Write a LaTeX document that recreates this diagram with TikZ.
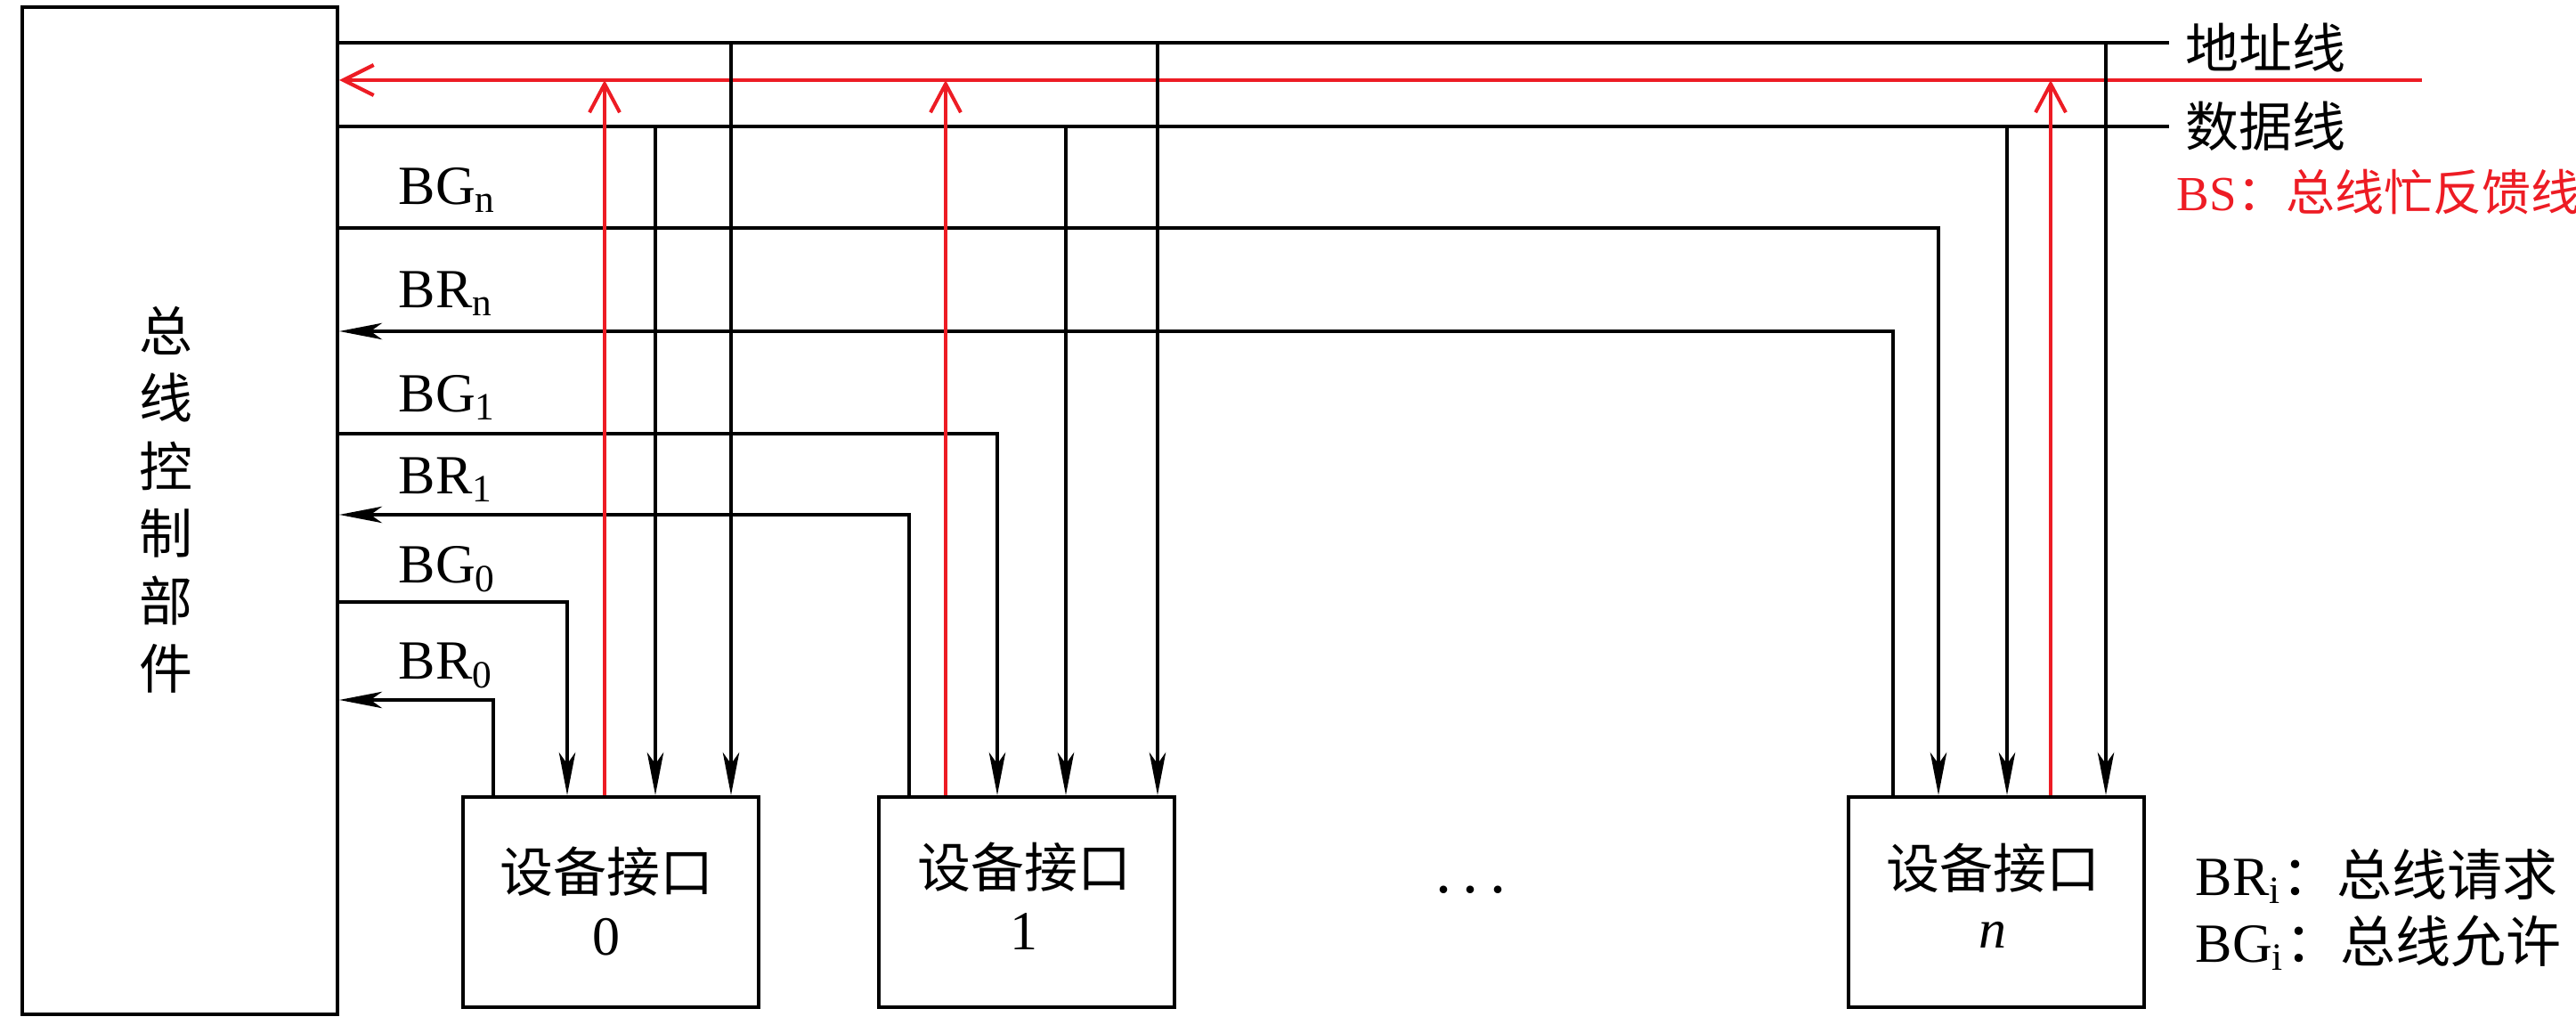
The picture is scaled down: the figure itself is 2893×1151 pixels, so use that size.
\documentclass[tikz,border=0pt]{standalone}
\usepackage{fontspec}
\setmainfont{Liberation Serif}
\newfontfamily\cjk{Noto Sans CJK SC}
\usetikzlibrary{arrows.meta}
\definecolor{bsred}{RGB}{237,28,36}
\newcommand\fsbig{\fontsize{15pt}{18.75pt}\selectfont}
\newcommand\fslab{\fontsize{15.5pt}{18pt}\selectfont}
\newcommand\fsred{\fontsize{13.75pt}{16pt}\selectfont}
\newcommand\fsdots{\fontsize{18pt}{20pt}\selectfont}
\begin{document}
\begin{tikzpicture}[x=0.25pt,y=-0.25pt,
  ctrlbox/.style={draw, line width=1pt, minimum width=88.5pt, minimum height=282.75pt, inner sep=0pt},
  devbox/.style={draw, line width=1pt, minimum width=83pt, minimum height=59pt, inner sep=0pt},
  cjktxt/.style={inner sep=0pt, font=\fsbig\cjk},
  labtxt/.style={inner sep=0pt, font=\fslab, anchor=base west},
  bus/.style={line width=1pt},
  sig/.style={line width=1pt, -{Stealth[length=12pt,width=4.6pt,inset=3.2pt]}},
  bsl/.style={draw=bsred, line width=1.05pt, -{Straight Barb[length=8.5pt,width=8.5pt]}},
  bsv/.style={draw=bsred, line width=1pt, -{Straight Barb[length=8pt,width=8.5pt]}}
]
\useasboundingbox (0,0) rectangle (2893,1151);

% controller
\node[ctrlbox] (ctrl) at (202,573.5) {};
\foreach \c [count=\i] in {总,线,控,制,部,件}
  \node[cjktxt] (c\i) at (186,{371+76*(\i-1)}) {\c};

% device interfaces
\node[devbox] (d0) at (685.5,1013) {};
\node[devbox] (d1) at (1152.5,1013) {};
\node[devbox] (dn) at (2241.5,1013) {};
\node[cjktxt, anchor=base] (t0a) at (681,1002) {设备接口};
\node[inner sep=0pt, font=\fslab, anchor=base] (t0b) at (681,1073) {0};
\node[cjktxt, anchor=base] (t1a) at (1150,997) {设备接口};
\node[inner sep=0pt, font=\fslab, anchor=base] (t1b) at (1150,1067) {1};
\node[cjktxt, anchor=base] (tna) at (2238,998) {设备接口};
\node[inner sep=0pt, font=\fslab, anchor=base] (tnb) at (2238,1065) {\textit{n}};
\node[inner sep=0pt, font=\fsdots, anchor=base] (dots) at (1652,1003) {.\kern0.18em.\kern0.18em.};

% bus end points
\coordinate (aR) at (2436,48);
\coordinate (dR) at (2436,142);
\coordinate (bsR) at (2720,90);

% red BS horizontal
\draw[bsl] (bsR) -- (ctrl.east |- bsR);

% address and data lines
\draw[bus] (ctrl.east |- aR) -- (aR);
\draw[bus] (ctrl.east |- dR) -- (dR);

% right labels
\node[cjktxt, anchor=west] (la) at (2454,54) {地址线};
\node[cjktxt, anchor=west] (ld) at (2454,142) {数据线};
\node[inner sep=0pt, font=\fsred, anchor=base west, text=bsred] (lbs) at (2444,237) {BS{\cjk ：总线忙反馈线}};

% address verticals
\coordinate (a0) at (821,48);
\coordinate (a1) at (1300,48);
\coordinate (an) at (2365,48);
\draw[sig] (a0) -- (a0 |- d0.north);
\draw[sig] (a1) -- (a1 |- d1.north);
\draw[sig] (an) -- (an |- dn.north);

% data verticals
\coordinate (m0) at (736,142);
\coordinate (m1) at (1197,142);
\coordinate (mn) at (2254,142);
\draw[sig] (m0) -- (m0 |- d0.north);
\draw[sig] (m1) -- (m1 |- d1.north);
\draw[sig] (mn) -- (mn |- dn.north);

% BG lines
\coordinate (g0) at (637,676);
\coordinate (g1) at (1120,487);
\coordinate (gn) at (2177,256);
\draw[sig] (ctrl.east |- g0) -- (g0) -- (g0 |- d0.north);
\draw[sig] (ctrl.east |- g1) -- (g1) -- (g1 |- d1.north);
\draw[sig] (ctrl.east |- gn) -- (gn) -- (gn |- dn.north);

% BR lines
\coordinate (q0) at (554,786);
\coordinate (q1) at (1021,578);
\coordinate (qn) at (2126,372);
\draw[sig] (q0 |- d0.north) -- (q0) -- (ctrl.east |- q0);
\draw[sig] (q1 |- d1.north) -- (q1) -- (ctrl.east |- q1);
\draw[sig] (qn |- dn.north) -- (qn) -- (ctrl.east |- qn);

% red verticals
\coordinate (r0) at (679,90);
\coordinate (r1) at (1062,90);
\coordinate (rn) at (2303,90);
\draw[bsv] (r0 |- d0.north) -- (r0);
\draw[bsv] (r1 |- d1.north) -- (r1);
\draw[bsv] (rn |- dn.north) -- (rn);

% signal labels
\node[labtxt] (lbgn) at (447,230) {BG\textsubscript{n}};
\node[labtxt] (lbrn) at (447,346) {BR\textsubscript{n}};
\node[labtxt] (lbg1) at (447,463) {BG\textsubscript{1}};
\node[labtxt] (lbr1) at (447,555) {BR\textsubscript{1}};
\node[labtxt] (lbg0) at (447,655) {BG\textsubscript{0}};
\node[labtxt] (lbr0) at (447,763) {BR\textsubscript{0}};

% legend
\node[labtxt] (lgr) at (2465,1006) {BR\textsubscript{i}{\cjk ：总线请求}};
\node[labtxt] (lgg) at (2465,1081) {BG\textsubscript{i}{\cjk ：总线允许}};
\end{tikzpicture}
\end{document}
